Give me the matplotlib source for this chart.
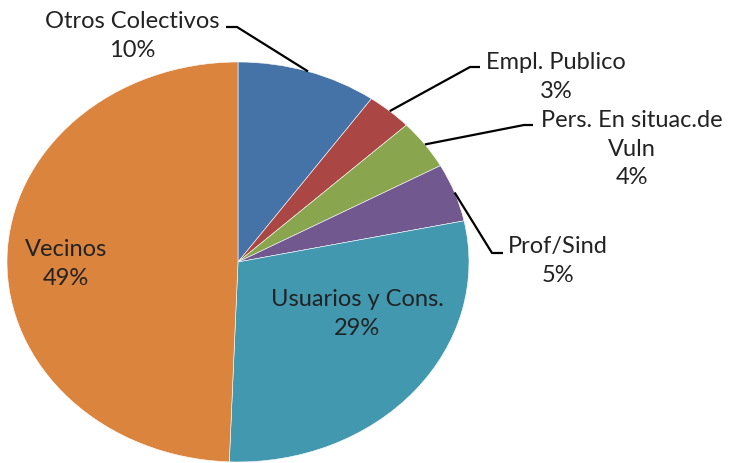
import numpy as np
import matplotlib
matplotlib.use("Agg")
import matplotlib.pyplot as plt

# data (shares, labels rounded as in the chart)
labels = ["Otros Colectivos", "Empl. Publico", "Pers. En situac.de\nVuln",
          "Prof/Sind", "Usuarios y Cons.", "Vecinos"]
values = [9.8, 3.2, 4.0, 4.7, 28.9, 49.4]
colors = ["#4572A7", "#AA4643", "#89A54E", "#71588F", "#4198AF", "#DB843D"]

W, H = 732, 463
CX, CY, RX, RY = 238, 262, 231, 200   # pie centre / radii in pixels


def px(x, y):
    # pixel position -> data units (pie radius = 1)
    return (x - CX) / RX, (CY - y) / RY


plt.rcParams['font.family'] = ['Lato', 'DejaVu Sans']
fig = plt.figure(figsize=(W / 100, H / 100), dpi=100)
ax = fig.add_axes([0, 0, 1, 1])

wedges, _ = ax.pie(values, colors=colors, startangle=90, counterclock=False,
                   radius=1, wedgeprops=dict(edgecolor='white', linewidth=0.4))
ax.set_aspect('auto')
ax.set_xlim(-CX / RX, (W - CX) / RX)
ax.set_ylim(-(H - CY) / RY, CY / RY)
ax.axis('off')

txt = dict(fontsize=17, color='#222222', ha='center', va='center',
           linespacing=1.42)

# outside labels: (text centre, elbow, line end) in pixels
outside = {
    0: ((132, 36), (237, 27), (226, 27)),
    1: ((556, 77), (470, 67), (480, 67)),
    2: ((632, 149), (524, 125), (533, 125)),
    3: ((558, 261), (492, 253), (503, 253)),
}
for i, (tpos, elbow, end) in outside.items():
    w = wedges[i]
    mid = np.deg2rad((w.theta1 + w.theta2) / 2)
    ax_, ay_ = np.cos(mid), np.sin(mid)
    ex, ey = px(*elbow)
    nx, ny = px(*end)
    ax.plot([ax_, ex, nx], [ay_, ey, ny], color='black', lw=1.6,
            solid_capstyle='butt')
    ax.text(*px(*tpos), f"{labels[i]}\n{values[i]:.0f}%", **txt)

# inside labels
ax.text(*px(357, 314), f"{labels[4]}\n{values[4]:.0f}%", **txt)
ax.text(*px(66, 264), f"{labels[5]}\n{values[5]:.0f}%", **txt)

fig.savefig("out.png", dpi=100, facecolor='white')
